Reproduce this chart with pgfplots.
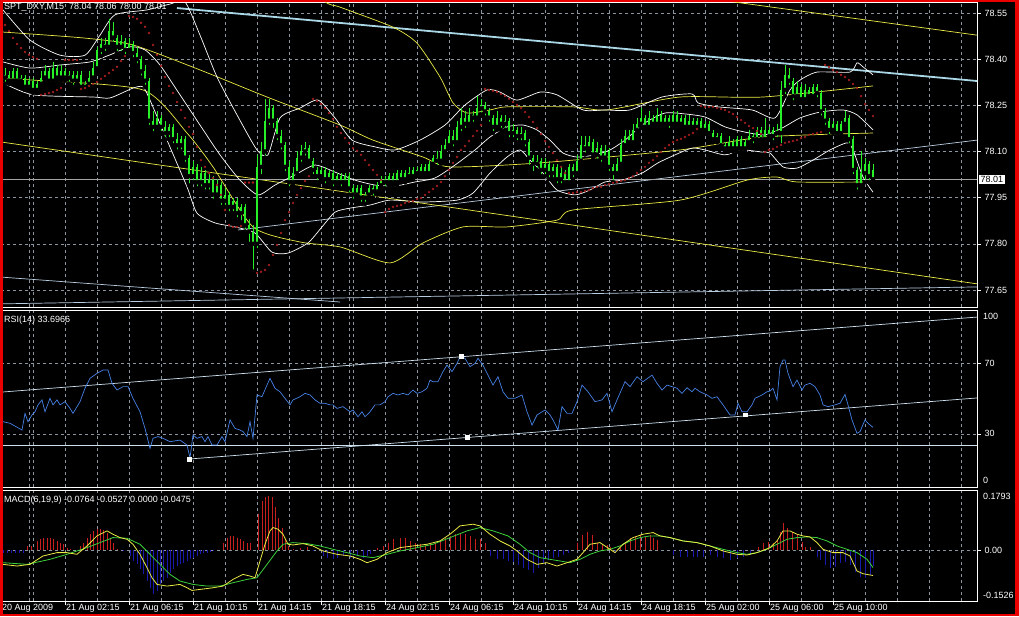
\documentclass[border=0pt]{standalone}
\usepackage{pgfplots}
\pgfplotsset{compat=1.18}
\usepackage{pgfplotstable}
\usepackage{fontspec}
\setmainfont{Liberation Sans}

\definecolor{gridc}{RGB}{140,150,160}
\definecolor{candle}{RGB}{40,240,40}
\definecolor{sar}{RGB}{225,40,40}
\definecolor{bandy}{RGB}{235,235,70}
\definecolor{lblue}{RGB}{170,215,230}
\definecolor{lsteel}{RGB}{185,205,225}
\definecolor{pline}{RGB}{165,165,165}
\definecolor{rsic}{RGB}{70,130,230}
\definecolor{trend}{RGB}{205,225,240}
\definecolor{hred}{RGB}{200,30,30}
\definecolor{hblue}{RGB}{25,25,175}
\definecolor{sig}{RGB}{60,210,60}
\definecolor{mtred}{RGB}{235,0,0}

\newcommand\lab{\fontsize{9}{10}\selectfont}

\pgfplotsset{
  mt/.style={
    scale only axis, width=976pt, xmin=1, xmax=977,
    axis line style={white, line width=0.8pt},
    xtick={29,33,65,97,129,161,193,225,257,289,321,333,349,353,385,417,449,481,513,545,577,609,641,673,705,737,769,801,833,865,897,929,961},
    xticklabels={}, xmajorgrids, ymajorgrids,
    grid style={draw=gridc, line width=0.5pt, dash pattern=on 3pt off 3pt},
    major x tick style={draw=none},
    xtick pos=bottom, ytick pos=right, yticklabel pos=right,
    tick align=outside, major tick length=4pt,
    major y tick style={draw=white, line width=0.5pt},
    ticklabel style={text=white, font=\lab},
    /pgf/number format/assume math mode=true,
    clip mode=individual,
  }
}

% price bars, 15 min: x o h l c
\pgfplotstableread{
x o h l c
5 78.34 78.37 78.32 78.35
9 78.35 78.36 78.32 78.33
13 78.33 78.37 78.32 78.36
17 78.36 78.37 78.32 78.33
21 78.33 78.35 78.32 78.34
25 78.34 78.35 78.30 78.31
29 78.31 78.34 78.30 78.33
33 78.33 78.34 78.29 78.30
37 78.30 78.33 78.29 78.32
41 78.32 78.36 78.31 78.34
45 78.34 78.38 78.33 78.36
49 78.36 78.37 78.32 78.33
53 78.33 78.39 78.32 78.37
57 78.37 78.38 78.33 78.34
61 78.34 78.38 78.33 78.36
65 78.36 78.37 78.33 78.34
69 78.34 78.36 78.32 78.35
73 78.35 78.36 78.31 78.33
77 78.33 78.36 78.32 78.35
81 78.35 78.36 78.30 78.31
85 78.31 78.33 78.30 78.32
89 78.32 78.36 78.31 78.34
93 78.34 78.39 78.33 78.37
97 78.37 78.44 78.36 78.43
101 78.43 78.47 78.41 78.45
105 78.45 78.47 78.42 78.44
109 78.44 78.53 78.43 78.49
113 78.49 78.52 78.45 78.47
117 78.47 78.48 78.42 78.44
121 78.44 78.48 78.42 78.46
125 78.46 78.47 78.41 78.43
129 78.43 78.47 78.42 78.45
133 78.45 78.46 78.40 78.42
137 78.42 78.44 78.38 78.40
141 78.40 78.41 78.34 78.36
145 78.36 78.38 78.31 78.33
149 78.33 78.34 78.18 78.20
153 78.20 78.23 78.16 78.18
157 78.18 78.23 78.17 78.21
161 78.21 78.22 78.16 78.18
165 78.18 78.20 78.14 78.16
169 78.16 78.19 78.14 78.18
173 78.18 78.19 78.12 78.14
177 78.14 78.16 78.10 78.12
181 78.12 78.15 78.10 78.14
185 78.14 78.15 78.06 78.08
189 78.08 78.09 77.99 78.02
193 78.02 78.07 78.00 78.05
197 78.05 78.06 77.98 78.00
201 78.00 78.05 77.98 78.03
205 78.03 78.04 77.97 77.99
209 77.99 78.03 77.97 78.01
213 78.01 78.02 77.94 77.96
217 77.96 78.01 77.95 77.99
221 77.99 78.00 77.92 77.94
225 77.94 77.98 77.92 77.96
229 77.96 77.97 77.90 77.92
233 77.92 77.95 77.90 77.94
237 77.94 77.95 77.88 77.90
241 77.90 77.93 77.87 77.92
245 77.92 77.93 77.84 77.86
249 77.86 77.88 77.80 77.84
253 77.84 77.86 77.71 77.80
257 77.80 78.09 77.78 78.05
261 78.05 78.13 78.02 78.10
265 78.10 78.27 78.08 78.20
269 78.20 78.27 78.18 78.24
273 78.24 78.25 78.17 78.20
277 78.20 78.21 78.13 78.15
281 78.15 78.17 78.10 78.12
285 78.12 78.13 78.03 78.05
289 78.05 78.07 77.98 78.00
293 78.00 78.05 77.99 78.03
297 78.03 78.10 78.02 78.08
301 78.08 78.12 78.06 78.10
305 78.10 78.13 78.08 78.11
309 78.11 78.12 78.06 78.07
313 78.07 78.08 78.02 78.04
317 78.04 78.05 78.00 78.02
321 78.02 78.05 78.01 78.04
325 78.04 78.05 77.99 78.01
329 78.01 78.04 78.00 78.03
333 78.03 78.04 77.98 78.00
337 78.00 78.03 77.99 78.02
341 78.02 78.03 77.98 78.00
345 78.00 78.03 77.99 78.02
349 78.02 78.03 77.96 77.98
353 77.98 77.99 77.94 77.96
357 77.96 77.99 77.95 77.98
361 77.98 77.99 77.93 77.95
365 77.95 77.97 77.93 77.96
369 77.96 77.99 77.95 77.98
373 77.98 77.99 77.95 77.97
377 77.97 78.00 77.96 77.99
381 77.99 78.02 77.98 78.01
385 78.01 78.02 77.98 78.00
389 78.00 78.03 77.99 78.02
393 78.02 78.03 77.99 78.00
397 78.00 78.04 77.99 78.03
401 78.03 78.04 78.00 78.01
405 78.01 78.04 78.00 78.03
409 78.03 78.05 78.01 78.02
413 78.02 78.05 78.01 78.04
417 78.04 78.05 78.02 78.03
421 78.03 78.06 78.02 78.05
425 78.05 78.06 78.02 78.03
429 78.03 78.07 78.02 78.06
433 78.06 78.09 78.05 78.08
437 78.08 78.10 78.05 78.07
441 78.07 78.12 78.06 78.10
445 78.10 78.14 78.09 78.12
449 78.12 78.17 78.11 78.15
453 78.15 78.17 78.11 78.13
457 78.13 78.20 78.12 78.18
461 78.18 78.24 78.16 78.21
465 78.21 78.23 78.17 78.19
469 78.19 78.24 78.18 78.22
473 78.22 78.23 78.19 78.21
477 78.21 78.28 78.20 78.24
481 78.24 78.27 78.22 78.25
485 78.25 78.26 78.21 78.23
489 78.23 78.24 78.19 78.21
493 78.21 78.22 78.16 78.18
497 78.18 78.23 78.17 78.21
501 78.21 78.22 78.17 78.19
505 78.19 78.22 78.17 78.20
509 78.20 78.21 78.14 78.16
513 78.16 78.19 78.14 78.17
517 78.17 78.18 78.13 78.15
521 78.15 78.18 78.13 78.16
525 78.16 78.17 78.11 78.13
529 78.13 78.14 78.05 78.08
533 78.08 78.09 78.03 78.06
537 78.06 78.09 78.04 78.07
541 78.07 78.08 78.02 78.04
545 78.04 78.08 78.02 78.06
549 78.06 78.07 78.01 78.03
553 78.03 78.06 78.01 78.05
557 78.05 78.06 77.99 78.01
561 78.01 78.05 77.99 78.03
565 78.03 78.04 77.99 78.00
569 78.00 78.06 77.99 78.05
573 78.05 78.06 78.01 78.03
577 78.03 78.09 78.02 78.07
581 78.07 78.15 78.06 78.12
585 78.12 78.15 78.09 78.11
589 78.11 78.15 78.10 78.13
593 78.13 78.14 78.08 78.09
597 78.09 78.13 78.07 78.11
601 78.11 78.12 78.06 78.08
605 78.08 78.12 78.07 78.10
609 78.10 78.11 78.03 78.05
613 78.05 78.06 78.00 78.03
617 78.03 78.08 78.02 78.06
621 78.06 78.14 78.05 78.12
625 78.12 78.17 78.11 78.15
629 78.15 78.17 78.12 78.13
633 78.13 78.19 78.12 78.17
637 78.17 78.21 78.16 78.19
641 78.19 78.24 78.18 78.21
645 78.21 78.22 78.17 78.18
649 78.18 78.23 78.17 78.21
653 78.21 78.22 78.18 78.19
657 78.19 78.24 78.18 78.22
661 78.22 78.23 78.18 78.19
665 78.19 78.22 78.18 78.21
669 78.21 78.22 78.17 78.19
673 78.19 78.23 78.18 78.22
677 78.22 78.23 78.18 78.19
681 78.19 78.22 78.18 78.21
685 78.21 78.22 78.17 78.18
689 78.18 78.22 78.17 78.20
693 78.20 78.21 78.17 78.18
697 78.18 78.21 78.17 78.20
701 78.20 78.21 78.16 78.17
705 78.17 78.20 78.16 78.19
709 78.19 78.20 78.15 78.16
713 78.16 78.17 78.13 78.14
717 78.14 78.16 78.13 78.15
721 78.15 78.16 78.11 78.12
725 78.12 78.13 78.10 78.11
729 78.11 78.15 78.10 78.13
733 78.13 78.14 78.10 78.11
737 78.11 78.15 78.10 78.14
741 78.14 78.15 78.10 78.11
745 78.11 78.14 78.10 78.13
749 78.13 78.17 78.12 78.15
753 78.15 78.16 78.12 78.14
757 78.14 78.18 78.13 78.17
761 78.17 78.18 78.13 78.14
765 78.14 78.21 78.13 78.17
769 78.17 78.18 78.14 78.15
773 78.15 78.18 78.13 78.17
777 78.17 78.19 78.14 78.16
781 78.16 78.33 78.12 78.30
785 78.30 78.38 78.28 78.35
789 78.35 78.37 78.31 78.33
793 78.33 78.34 78.26 78.28
797 78.28 78.33 78.27 78.31
801 78.31 78.32 78.26 78.27
805 78.27 78.32 78.26 78.30
809 78.30 78.31 78.27 78.28
813 78.28 78.32 78.27 78.31
817 78.31 78.32 78.27 78.29
821 78.29 78.30 78.21 78.23
825 78.23 78.24 78.18 78.20
829 78.20 78.21 78.15 78.17
833 78.17 78.20 78.16 78.19
837 78.19 78.20 78.15 78.16
841 78.16 78.20 78.15 78.19
845 78.19 78.23 78.18 78.21
849 78.21 78.22 78.12 78.14
853 78.14 78.15 78.02 78.04
857 78.04 78.05 77.97 77.99
861 77.99 78.10 77.98 78.03
865 78.03 78.08 78.00 78.06
869 78.06 78.07 78.00 78.02
873 78.04 78.06 78.00 78.01
}\candles

\begin{document}
\begin{tikzpicture}[x=1pt,y=1pt]
\useasboundingbox (0,0) rectangle (1019,616);
\fill[black] (0,0) rectangle (1019,616);

% ---------------- main price window
\begin{axis}[mt, at={(1pt,309pt)}, anchor=south west, height=305pt,
    ymin=77.5948, ymax=78.5857,
    ytick={77.65,77.80,77.95,78.10,78.25,78.40,78.55},
    yticklabel style={/pgf/number format/.cd, fixed, fixed zerofill, precision=2}]
% straight channel / trend lines
\addplot[lsteel, line width=0.7pt] coordinates {(1,77.692) (340,77.611)};
\addplot[lsteel, line width=0.7pt] coordinates {(1,77.605) (977,77.660)};
\addplot[lsteel, line width=0.7pt] coordinates {(238,77.845) (977,78.137)};
\addplot[bandy, line width=0.7pt] coordinates {(1,78.131) (977,77.670)};
\addplot[bandy, line width=0.7pt] coordinates {(720,78.592) (977,78.478)};
\addplot[lblue, line width=1.8pt] coordinates {(177,78.566) (977,78.329)};
\addplot[pline, line width=0.7pt] coordinates {(1,78.01) (977,78.01)};
% yellow envelope
\addplot[bandy, line width=0.7pt, smooth, tension=0.4] coordinates {
(3,78.638) (133,78.602) (200,78.641) (267,78.709) (325,78.586) (340,78.569) (393,78.504)
(417,78.452) (440,78.342) (453,78.258) (467,78.225) (490,78.235) (507,78.245) (573,78.245)
(607,78.235) (680,78.277) (763,78.277) (873,78.313)};
\addplot[bandy, line width=0.7pt, smooth, tension=0.4] coordinates {
(3,78.488) (83,78.469) (133,78.446) (200,78.365) (267,78.277) (340,78.186) (373,78.137)
(423,78.082) (450,78.050) (540,78.063) (680,78.105) (763,78.147) (873,78.160)};
\addplot[bandy, line width=0.7pt, smooth, tension=0.4] coordinates {
(3,78.336) (33,78.332) (143,78.300) (187,78.160) (213,78.050) (253,77.855) (300,77.806)
(340,77.790) (390,77.738) (423,77.803) (463,77.855) (507,77.855) (557,77.877) (573,77.910)
(680,77.942) (747,78.007) (777,78.017) (797,78.001) (873,78.001)};
% white bands
\addplot[white, line width=0.7pt, smooth, tension=0.4] coordinates {
(3,78.560) (30,78.462) (60,78.413) (85,78.413) (100,78.478) (115,78.544) (147,78.560)
(170,78.579) (185,78.586) (200,78.478) (217,78.342) (237,78.219) (257,78.105) (268,78.089)
(280,78.209) (300,78.241) (318,78.267) (335,78.209) (352,78.137) (375,78.115) (395,78.105)
(420,78.137) (445,78.186) (465,78.251) (487,78.300) (500,78.293) (517,78.267) (540,78.293)
(557,78.284) (583,78.235) (605,78.235) (630,78.235) (662,78.277) (692,78.287) (698,78.258)
(718,78.245) (752,78.235) (775,78.209) (790,78.300) (800,78.332) (817,78.358) (850,78.358)
(857,78.388) (863,78.375) (873,78.349)};
\addplot[white, line width=0.7pt, smooth, tension=0.4] coordinates {
(3,78.391) (30,78.371) (60,78.381) (90,78.391) (110,78.414) (130,78.440) (145,78.430)
(160,78.381) (180,78.284) (200,78.186) (220,78.089) (240,78.007) (258,77.959) (275,77.991)
(295,78.024) (315,78.056) (335,78.033) (355,78.007) (375,77.991) (395,77.988) (415,78.001)
(435,78.014) (455,78.056) (475,78.105) (490,78.147) (507,78.180) (523,78.186) (537,78.170)
(550,78.137) (563,78.095) (577,78.082) (595,78.089) (610,78.105) (625,78.137) (645,78.193)
(665,78.225) (685,78.222) (705,78.212) (725,78.180) (745,78.163) (765,78.154) (782,78.176)
(800,78.209) (820,78.228) (843,78.235) (857,78.219) (873,78.170)};
\addplot[white, line width=0.7pt, smooth, tension=0.4] coordinates {
(3,78.323) (33,78.284) (93,78.277) (110,78.274) (133,78.306) (143,78.310) (150,78.267)
(167,78.137) (187,77.985) (197,77.900) (215,77.868) (235,77.855) (255,77.835) (272,77.773)
(288,77.770) (308,77.803) (322,77.855) (335,77.903) (350,77.916) (370,77.926) (390,77.942)
(423,77.936) (457,77.942) (473,77.965) (490,78.030) (507,78.082) (520,78.105) (530,78.072)
(543,78.030) (557,77.975) (575,77.959) (590,77.975) (605,78.001) (622,78.007) (642,78.030)
(658,78.063) (675,78.089) (692,78.111) (705,78.105) (725,78.089) (742,78.105) (762,78.098)
(770,78.095) (783,78.050) (797,78.046) (813,78.072) (830,78.105) (847,78.128) (853,78.105)
(863,78.017) (873,77.968)};
% candles: wicks, then bodies
\addplot[only marks, mark=none, error bars/y dir=plus, error bars/y explicit,
    error bars/error mark=none, error bars/error bar style={draw=candle, line width=0.9pt}]
    table[x=x, y=l, y error expr=\thisrow{h}-\thisrow{l}] {\candles};
\addplot[only marks, mark=none, error bars/y dir=plus, error bars/y explicit,
    error bars/error mark=none, error bars/error bar style={draw=candle, line width=2.8pt}]
    table[x=x, y expr={min(\thisrow{o},\thisrow{c})}, y error expr={abs(\thisrow{c}-\thisrow{o})}] {\candles};
% parabolic SAR
\addplot[only marks, mark=*, mark size=1.1pt, mark options={fill=sar, draw=sar!60!black, line width=0.3pt}] coordinates {
(5,78.511)(9,78.491)(13,78.469)(17,78.449)(21,78.436)(25,78.423)(29,78.414)(33,78.407)(37,78.401)
(41,78.284)(45,78.287)(49,78.290)(53,78.293)(57,78.300)(61,78.306)
(65,78.397)(69,78.397)(73,78.397)(77,78.397)
(81,78.303)(85,78.306)(89,78.313)(93,78.319)(97,78.326)(101,78.336)(105,78.345)(109,78.355)(113,78.365)(117,78.375)(121,78.394)(125,78.410)
(129,78.540)(133,78.537)(137,78.531)(141,78.518)(145,78.505)(149,78.485)(153,78.446)(157,78.414)(161,78.378)(165,78.342)(169,78.313)(173,78.290)(177,78.261)(181,78.235)(185,78.209)(189,78.180)(193,78.157)(197,78.115)(201,78.072)(205,78.050)(209,78.030)(213,78.014)(217,77.991)(221,77.959)(225,77.910)(229,77.861)(233,77.855)(237,77.855)(241,77.858)
(245,77.999)(249,77.999)(253,77.999)
(257,77.705)(261,77.709)(265,77.715)(269,77.731)(273,77.764)(277,77.796)(281,77.835)(285,77.877)(289,77.903)(293,77.933)(297,77.959)(301,77.981)(305,78.004)(309,78.020)
(313,78.271)(317,78.264)(321,78.254)(325,78.241)(329,78.225)(333,78.206)(337,78.180)(341,78.160)(345,78.144)(349,78.128)(353,78.111)(357,78.102)(361,78.089)(365,78.072)(369,78.056)(373,78.040)(377,78.024)(381,78.007)
(385,77.903)(389,77.913)(393,77.920)(397,77.923)(401,77.926)(405,77.933)(409,77.936)(413,77.939)(417,77.946)(421,77.949)(425,77.959)(429,77.968)(433,77.978)(437,77.988)(441,78.001)(445,78.020)(449,78.040)(453,78.063)(457,78.082)(461,78.105)(465,78.118)(469,78.134)(473,78.150)(477,78.167)(481,78.186)
(485,78.303)(489,78.300)(493,78.297)(497,78.293)(501,78.287)(505,78.280)(509,78.271)(513,78.261)(517,78.251)(521,78.241)(525,78.228)(529,78.212)(533,78.196)(537,78.176)(541,78.157)(545,78.134)(549,78.115)(553,78.095)(557,78.072)(561,78.050)(565,78.030)
(569,77.965)(573,77.965)(577,77.968)(581,77.968)(585,77.972)(589,77.975)(593,77.981)(597,77.985)(601,77.985)(605,77.991)(609,77.994)(613,77.998)(617,78.001)(621,78.004)(625,78.007)(629,78.014)(633,78.020)(637,78.030)(641,78.040)(645,78.050)(649,78.063)(653,78.072)(657,78.085)(661,78.098)(665,78.111)(669,78.121)(673,78.131)(677,78.137)(681,78.141)(685,78.147)(689,78.154)(693,78.160)(697,78.173)
(701,78.248)(705,78.245)(709,78.245)(713,78.245)(717,78.241)(721,78.238)(725,78.235)(729,78.228)(733,78.222)(737,78.212)(741,78.202)(745,78.193)(749,78.183)(753,78.176)(757,78.167)(761,78.157)
(765,78.098)(769,78.105)(773,78.108)(777,78.115)(781,78.121)(785,78.128)(789,78.131)(793,78.134)(797,78.137)(801,78.144)(805,78.147)(809,78.154)(813,78.157)(817,78.160)(821,78.163)
(825,78.381)(829,78.375)(833,78.365)(837,78.358)(841,78.349)(845,78.342)(849,78.332)(853,78.319)(857,78.306)(861,78.280)(865,78.254)(869,78.235)(873,78.215)};
\node[anchor=west, text=white, font=\lab, inner sep=0pt] at (axis cs:4,78.567) {SPT\_DXY,M15\ \ 78.04 78.06 78.00 78.01};
\node[anchor=west, fill=white, text=black, font=\lab, inner sep=1.5pt] at (axis cs:979,78.01) {78.01};
\end{axis}

% ---------------- RSI window
\begin{axis}[mt, at={(1pt,129pt)}, anchor=south west, height=177pt,
    ymin=0, ymax=100, ytick={30,70}]
\addplot[trend, line width=0.7pt] coordinates {(1,53.6) (977,96.0)};
\addplot[trend, line width=0.7pt] coordinates {(189,15.8) (977,50.3)};
\addplot[trend, line width=0.7pt] coordinates {(1,23.7) (977,23.7)};
\addplot[rsic, line width=0.7pt] coordinates {
(3,36.9)(10,36.0)(22,32.2)(25,41.6)(28,36.9)(32,40.7)(35,42.5)(38,46.4)(42,49.2)(45,42.5)
(50,50.1)(53,46.4)(57,49.2)(60,46.4)(65,48.2)(70,44.4)(73,41.6)(80,48.2)(85,55.8)(90,61.4)
(97,64.2)(103,66.1)(108,66.1)(112,58.6)(117,54.8)(123,56.7)(128,56.7)(133,50.1)(140,42.5)(145,33.1)
(150,21.8)(153,27.5)(158,28.5)(163,27.5)(170,25.6)(180,26.5)(187,23.7)(190,16.5)(193,29.4)(197,27.5)
(202,28.5)(205,25.6)(208,28.5)(212,23.7)(217,23.7)(222,28.5)(225,25.6)(230,37.9)(235,33.1)(240,32.2)
(243,31.3)(247,28.5)(250,36.9)(253,27.5)(257,52.0)(262,51.0)(267,57.6)(270,61.4)(275,55.8)(280,53.8)
(285,50.1)(290,46.4)(293,49.2)(300,51.0)(305,52.9)(310,52.0)(315,49.2)(320,47.3)(325,47.3)(330,46.4)
(333,46.4)(337,44.4)(343,45.4)(350,42.5)(353,43.5)(358,39.7)(362,42.5)(365,39.7)(370,42.5)(375,46.4)
(380,46.4)(385,48.2)(388,51.0)(393,52.9)(398,52.0)(403,52.9)(408,52.0)(413,54.8)(417,52.9)(422,53.8)
(427,55.8)(430,60.4)(433,59.5)(438,59.5)(443,65.2)(447,68.9)(452,65.2)(457,69.8)(460,73.6)(465,72.7)
(470,68.0)(475,69.8)(478,72.7)(483,68.9)(488,63.2)(493,57.6)(498,62.3)(503,53.8)(508,50.1)(515,50.1)
(522,52.0)(527,42.5)(532,35.0)(537,40.7)(545,43.5)(550,40.7)(553,37.9)(558,32.2)(562,45.4)(567,41.6)
(572,41.6)(577,48.2)(582,57.6)(588,53.8)(595,48.2)(602,49.2)(607,52.9)(612,42.5)(617,49.2)(625,59.5)
(630,56.7)(637,62.3)(643,59.5)(652,63.2)(657,58.6)(662,54.8)(667,57.6)(672,56.7)(677,55.8)(682,52.9)
(687,56.1)(692,53.8)(695,55.8)(700,53.8)(707,52.0)(712,50.1)(717,51.0)(723,46.4)(730,40.7)(735,40.7)
(738,47.3)(742,42.5)(747,42.5)(752,46.4)(755,50.1)(762,52.0)(767,53.8)(770,54.2)(773,55.8)(777,49.2)
(780,68.0)(783,71.7)(785,71.7)(788,64.2)(793,56.7)(797,60.4)(802,54.8)(805,57.6)(810,58.6)(815,56.7)
(820,52.0)(823,46.4)(828,45.4)(835,46.4)(840,47.3)(845,52.3)(848,46.4)(852,37.9)(857,30.3)(860,31.3)
(865,37.9)(868,36.0)(873,33.7)};
\addplot[only marks, mark=square*, mark size=1.7pt, mark options={fill=white, draw=white}] coordinates {
(189,15.8) (461,74.0) (467,28.2) (745,40.7)};
\node[anchor=west, text=white, font=\lab, inner sep=0pt] at (axis cs:4,94.4) {RSI(14) 33.6966};
\node[anchor=north west, text=white, font=\lab, inner sep=0pt] at ([xshift=6pt,yshift=-3pt]rel axis cs:1,1) {100};
\node[anchor=south west, text=white, font=\lab, inner sep=0pt] at ([xshift=6pt,yshift=3pt]rel axis cs:1,0) {0};
\end{axis}

% ---------------- MACD window
\begin{axis}[mt, at={(1pt,15pt)}, anchor=south west, height=111pt,
    ymin=-0.1526, ymax=0.1793, ytick={0},
    yticklabel style={/pgf/number format/.cd, fixed, fixed zerofill, precision=2},
    extra x ticks={1,65,129,193,257,321,385,449,513,577,641,705,769,833},
    extra x tick labels={20 Aug 2009,21 Aug 02:15,21 Aug 06:15,21 Aug 10:15,21 Aug 14:15,21 Aug 18:15,24 Aug 02:15,24 Aug 06:15,24 Aug 10:15,24 Aug 14:15,24 Aug 18:15,25 Aug 02:00,25 Aug 06:00,25 Aug 10:00},
    extra x tick style={grid=none, major tick length=4pt,
        major x tick style={draw=white, line width=0.5pt},
        xticklabel style={anchor=north west, inner sep=0pt, xshift=1pt, yshift=1pt}}]
\addplot[ycomb, hred, line width=0.9pt] coordinates {
(27,0.012)(31,0.012)(37,0.027)(40,0.032)(43,0.037)(47,0.037)(50,0.037)(53,0.032)(57,0.027)(60,0.022)
(63,0.017)(67,0.007)(70,0.002)(80,0.012)(83,0.022)(87,0.037)(90,0.047)(93,0.057)(97,0.062)(100,0.062)
(103,0.059)(107,0.052)(110,0.037)(113,0.022)(117,0.003)
(223,0.022)(227,0.037)(230,0.042)(233,0.042)(237,0.037)(240,0.032)(243,0.027)(247,0.022)(250,0.022)
(258,0.107)(262,0.147)(265,0.157)(268,0.162)(272,0.157)(275,0.127)(278,0.097)(282,0.067)(285,0.032)
(288,0.012)(293,0.002)(300,0.005)(307,0.008)
(377,0.007)(383,0.012)(388,0.022)(393,0.032)(400,0.037)(405,0.037)(410,0.027)(415,0.022)(420,0.017)
(425,0.012)(430,0.017)(435,0.022)(440,0.027)(445,0.037)(450,0.042)(455,0.047)(460,0.052)(465,0.047)
(470,0.042)(475,0.032)(480,0.032)(485,0.022)
(577,0.020)(582,0.045)(587,0.055)(592,0.045)(597,0.020)(602,0.015)(607,0.015)(610,0.010)
(620,0.010)(625,0.025)(630,0.035)(635,0.040)(640,0.045)(645,0.040)(650,0.045)(653,0.035)(657,0.030)
(758,0.010)(763,0.020)(768,0.025)(773,0.020)(777,0.030)(780,0.055)(783,0.080)(787,0.065)(792,0.055)
(797,0.045)(802,0.025)(805,0.010)(810,0.010)};
\addplot[ycomb, hblue, line width=0.9pt] coordinates {
(3,-0.008)(7,-0.008)(11,-0.008)(15,-0.008)(19,-0.008)(23,-0.008)(123,-0.003)
(130,-0.018)(133,-0.033)(137,-0.043)(140,-0.058)(143,-0.073)(147,-0.093)(150,-0.113)(153,-0.133)
(157,-0.123)(160,-0.103)(163,-0.093)(167,-0.083)(170,-0.068)(173,-0.058)(177,-0.048)(180,-0.043)
(183,-0.038)(187,-0.033)(190,-0.028)(193,-0.023)(197,-0.018)(200,-0.013)(203,-0.010)(207,-0.008)
(210,-0.006)(213,-0.004)
(313,-0.003)(323,-0.018)(327,-0.023)(333,-0.028)(337,-0.023)(343,-0.018)(350,-0.023)(357,-0.018)
(363,-0.023)(367,-0.018)(370,-0.013)
(490,-0.018)(497,-0.028)(503,-0.028)(508,-0.033)(513,-0.035)(518,-0.045)(523,-0.055)(528,-0.060)
(533,-0.070)(538,-0.055)(543,-0.040)(548,-0.030)(553,-0.025)(558,-0.020)(563,-0.015)(568,-0.010)
(615,-0.010)
(673,-0.015)(680,-0.020)(687,-0.020)(693,-0.020)(697,-0.020)(703,-0.020)(710,-0.015)(717,-0.020)
(723,-0.025)(730,-0.030)(737,-0.025)(743,-0.020)(750,-0.015)
(817,-0.020)(820,-0.030)(825,-0.045)(830,-0.055)(835,-0.050)(840,-0.040)(845,-0.035)(850,-0.045)
(855,-0.065)(860,-0.080)(865,-0.085)(870,-0.075)(873,-0.0475)};
\addplot[sig, line width=0.8pt] coordinates {
(3,-0.038)(27,-0.043)(50,-0.028)(67,-0.013)(87,0.007)(100,0.022)(113,0.037)(127,0.035)(140,0.017)
(150,-0.013)(160,-0.043)(170,-0.073)(180,-0.093)(193,-0.103)(207,-0.108)(220,-0.108)(233,-0.098)
(247,-0.088)(257,-0.083)(267,-0.043)(277,-0.003)(283,0.017)(293,0.022)(307,0.019)(320,0.012)
(333,0.002)(347,-0.008)(360,-0.018)(373,-0.023)(387,-0.013)(400,-0.003)(417,0.007)(433,0.017)
(450,0.037)(467,0.057)(480,0.067)(493,0.057)(508,0.042)(520,0.017)(530,-0.008)(540,-0.023)
(550,-0.028)(560,-0.033)(570,-0.038)(580,-0.028)(590,-0.013)(600,-0.003)(610,0.002)(620,0.012)
(630,0.027)(640,0.037)(650,0.042)(660,0.042)(670,0.037)(683,0.027)(697,0.022)(710,0.012)(723,0.002)
(737,-0.008)(747,-0.013)(757,-0.008)(767,0.002)(777,0.017)(787,0.032)(797,0.037)(807,0.039)
(817,0.037)(827,0.027)(837,0.012)(847,0.002)(857,-0.008)(867,-0.028)(873,-0.0527)};
\addplot[bandy, line width=0.8pt] coordinates {
(3,-0.043)(17,-0.048)(30,-0.043)(43,-0.018)(57,-0.008)(67,-0.008)(77,-0.013)(87,0.012)(97,0.042)
(107,0.057)(113,0.047)(120,0.037)(127,0.032)(133,0.017)(140,-0.013)(147,-0.053)(152,-0.083)
(157,-0.103)(167,-0.108)(180,-0.103)(187,-0.113)(192,-0.121)(200,-0.118)(213,-0.113)(223,-0.108)
(233,-0.088)(243,-0.073)(250,-0.078)(255,-0.083)(260,-0.033)(265,0.017)(270,0.057)(273,0.067)
(278,0.062)(283,0.047)(288,0.017)(293,0.015)(303,0.019)(313,0.012)(323,-0.003)(337,-0.013)
(350,-0.018)(360,-0.028)(367,-0.038)(377,-0.028)(387,-0.008)(400,0.007)(413,0.012)(427,0.017)
(440,0.027)(450,0.047)(460,0.072)(473,0.077)(480,0.072)(490,0.047)(500,0.027)(510,0.012)
(517,-0.003)(527,-0.028)(537,-0.043)(547,-0.038)(557,-0.048)(567,-0.038)(577,-0.028)(583,-0.008)
(590,0.017)(600,0.022)(610,0.002)(615,-0.008)(623,0.017)(633,0.037)(643,0.047)(653,0.052)
(660,0.042)(670,0.037)(683,0.027)(697,0.022)(710,0.012)(723,-0.003)(737,-0.013)(747,-0.015)
(757,-0.008)(770,0.007)(777,0.027)(783,0.057)(790,0.057)(797,0.047)(803,0.042)(810,0.039)
(817,0.022)(823,0.002)(833,-0.008)(843,-0.008)(850,-0.018)(857,-0.063)(863,-0.071)(873,-0.0764)};
\node[anchor=west, text=white, font=\lab, inner sep=0pt] at (axis cs:4,0.150) {MACD(6,19,9) -0.0764 -0.0527 0.0000 -0.0475};
\node[anchor=north west, text=white, font=\lab, inner sep=0pt] at ([xshift=6pt,yshift=-3pt]rel axis cs:1,1) {0.1793};
\node[anchor=south west, text=white, font=\lab, inner sep=0pt] at ([xshift=6pt,yshift=2pt]rel axis cs:1,0) {-0.1526};
\end{axis}

% red window frame
\fill[mtred] (0,0) rectangle (3,616);
\fill[mtred] (1015,0) rectangle (1019,616);
\fill[mtred] (0,614) rectangle (1019,616);
\fill[mtred] (0,0) rectangle (1019,2.5);
\end{tikzpicture}
\end{document}
